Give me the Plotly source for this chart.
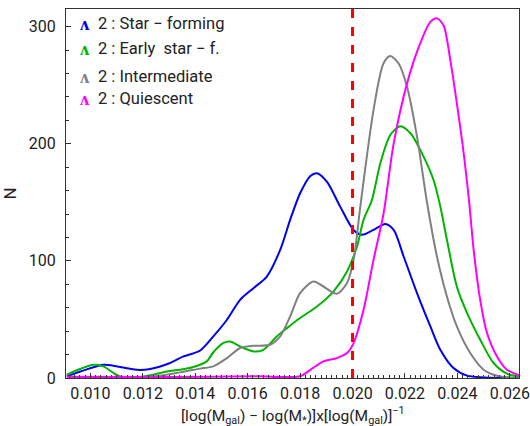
import plotly.graph_objects as go

# Smoothed distributions per galaxy class
x_sf = [0.00910, 0.01050, 0.01087, 0.01177, 0.01228, 0.01304, 0.01355, 0.01419, 0.01469,
        0.01521, 0.01571, 0.01622, 0.01673, 0.01724, 0.01762, 0.01800, 0.01839, 0.01864,
        0.01902, 0.01953, 0.02004, 0.02036, 0.02080, 0.02125, 0.02157, 0.02195, 0.02246,
        0.02297, 0.02335, 0.02385, 0.02437, 0.02500, 0.02550, 0.02640]
y_sf = [1.4, 11.3, 10.5, 7.0, 7.7, 12.8, 18.4, 23.5, 35.5,
        49.7, 66.7, 76.7, 86.6, 109.4, 135.0, 157.7, 172.5, 174.8,
        167.6, 146.3, 126.4, 122.2, 126.4, 131.5, 126.4, 103.7, 72.5,
        44.0, 24.1, 8.5, 2.0, 0.5, 0.0, 0.0]

x_es = [0.00910, 0.00961, 0.01011, 0.01050, 0.01088, 0.01113, 0.01160, 0.01240, 0.01292,
        0.01342, 0.01393, 0.01444, 0.01469, 0.01508, 0.01533, 0.01571, 0.01622, 0.01660,
        0.01711, 0.01750, 0.01800, 0.01864, 0.01927, 0.01979, 0.02017, 0.02042, 0.02074,
        0.02106, 0.02144, 0.02182, 0.02221, 0.02271, 0.02309, 0.02335, 0.02360, 0.02398,
        0.02437, 0.02487, 0.02538, 0.02589, 0.02640]
y_es = [2.8, 7.7, 11.3, 9.9, 4.3, 1.4, 0.3, 2.8, 5.6,
        7.0, 9.4, 14.2, 22.0, 30.0, 31.2, 27.0, 22.7, 24.1,
        35.5, 42.6, 51.2, 61.0, 73.8, 90.9, 112.2, 135.0, 152.0,
        183.3, 207.4, 215.0, 208.9, 189.0, 169.0, 146.3, 118.0, 78.0,
        55.4, 32.7, 12.8, 3.7, 1.0]

x_in = [0.00910, 0.01150, 0.01250, 0.01342, 0.01419, 0.01468, 0.01521, 0.01571, 0.01622,
        0.01686, 0.01724, 0.01762, 0.01800, 0.01851, 0.01889, 0.01940, 0.01979, 0.02004,
        0.02030, 0.02080, 0.02118, 0.02144, 0.02176, 0.02208, 0.02246, 0.02284, 0.02322,
        0.02360, 0.02398, 0.02449, 0.02500, 0.02551, 0.02640]
y_in = [0.0, 0.3, 1.5, 4.8, 8.0, 9.9, 17.0, 25.6, 27.5,
        28.4, 35.5, 52.5, 72.5, 82.4, 78.1, 71.9, 81.0, 100.8,
        147.0, 228.7, 268.5, 274.8, 268.5, 248.6, 206.0, 150.0, 103.7,
        69.6, 44.0, 21.3, 7.1, 2.0, 0.0]

x_qu = [0.00910, 0.01300, 0.01635, 0.01800, 0.01839, 0.01889, 0.01940, 0.01979, 0.02004,
        0.02042, 0.02080, 0.02118, 0.02157, 0.02208, 0.02258, 0.02297, 0.02322, 0.02347,
        0.02373, 0.02398, 0.02424, 0.02445, 0.02462, 0.02487, 0.02513, 0.02551, 0.02589,
        0.02640]
y_qu = [1.0, 0.8, 1.4, 1.5, 7.0, 14.2, 17.0, 21.3, 29.8,
        58.2, 100.8, 140.0, 200.3, 251.5, 285.6, 304.0, 307.0, 301.2,
        271.4, 234.4, 191.8, 150.0, 109.4, 66.7, 38.4, 18.4, 7.1,
        2.0]

series_names = ["2 : Star \u2212 forming", "2 : Early  star \u2212 f.", "2 : Intermediate", "2 : Quiescent"]
series_colors = ["#0000ee", "#00b400", "#808080", "#ff00ff"]
threshold_x = 0.020
x_title = "[log(M<sub>gal</sub>) \u2212 log(M<sub>*</sub>)]x[log(M<sub>gal</sub>)]<sup>\u22121</sup>"

font_family = "Roboto"
text_color = "#222222"

fig = go.Figure()
for xs, ys, name, col in zip([x_sf, x_es, x_in, x_qu], [y_sf, y_es, y_in, y_qu],
                             series_names, series_colors):
    fig.add_trace(go.Scatter(x=xs, y=ys, mode="lines", name=name,
                             line=dict(color=col, width=2, shape="spline", smoothing=0.8),
                             showlegend=False))

fig.add_shape(type="line", xref="x", yref="paper", x0=threshold_x, x1=threshold_x, y0=0, y1=1,
              line=dict(color="#ff0000", width=3, dash="dash"))

# Legend drawn as text rows in the upper-left corner
legend_rows_y = [303, 281.5, 257.5, 239]
for yv, name, col in zip(legend_rows_y, series_names, series_colors):
    fig.add_annotation(x=0.00980, y=yv, xref="x", yref="y", text="<b>\u028c</b>",
                       showarrow=False, xanchor="center", yanchor="middle",
                       font=dict(color=col, size=19, family=font_family))
    fig.add_annotation(x=0.01020, y=yv, xref="x", yref="y", text=name,
                       showarrow=False, xanchor="left", yanchor="middle",
                       font=dict(color=text_color, size=16.5, family=font_family))

# x-axis title placed below the tick labels
fig.add_annotation(x=0.5, y=-0.101, xref="paper", yref="paper", text=x_title,
                   showarrow=False, xanchor="center", yanchor="middle",
                   font=dict(size=15.5, color=text_color, family=font_family))

axis_common = dict(showline=True, linecolor="#333333", linewidth=1.2, mirror=True,
                   ticks="inside", tickcolor="#333333", ticklen=5, showgrid=False,
                   zeroline=False, automargin=False, ticklabeloverflow="allow",
                   tickfont=dict(size=16, color=text_color, family=font_family))

fig.update_xaxes(range=[0.00907, 0.02635], tick0=0.010, dtick=0.002, tickformat=".3f",
                 minor=dict(ticks="inside", ticklen=3, dtick=0.0002, tick0=0.010, tickcolor="#333333"),
                 ticklabelstandoff=1,
                 **axis_common)
fig.update_yaxes(range=[0, 315], tick0=0, dtick=100,
                 minor=dict(ticks="inside", ticklen=3, dtick=20, tickcolor="#333333"),
                 ticklabelstandoff=6,
                 title=dict(text="N", font=dict(size=17, color=text_color, family=font_family), standoff=9),
                 **axis_common)

fig.update_layout(width=530, height=426, margin=dict(l=66, r=11, t=9, b=48),
                  plot_bgcolor="white", paper_bgcolor="white")

fig.write_html("out.html")
